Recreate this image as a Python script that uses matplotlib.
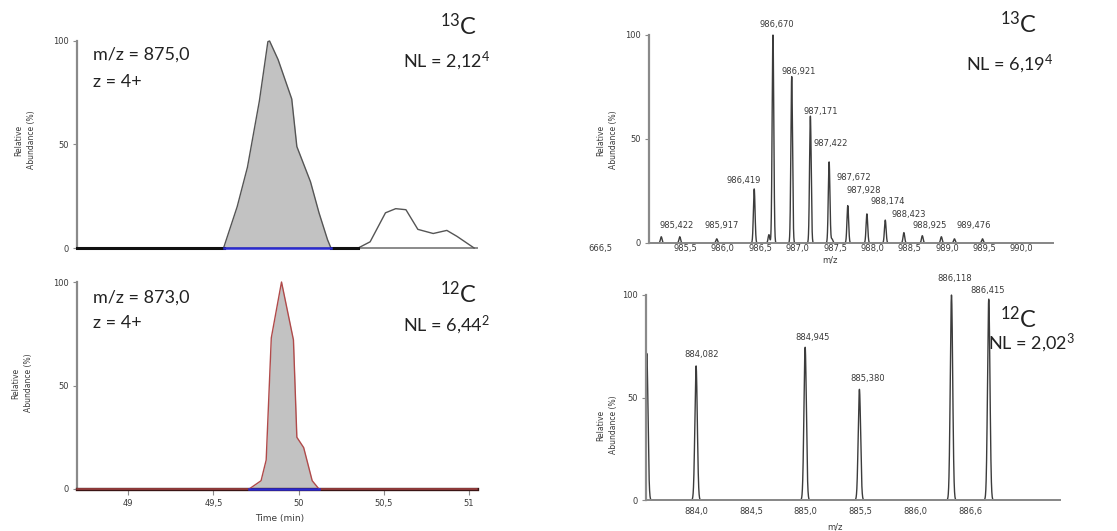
import numpy as np
import matplotlib
matplotlib.use("Agg")
import matplotlib.pyplot as plt

plt.rcParams['font.family'] = ['DejaVu Sans']
plt.rcParams['mathtext.fontset'] = 'custom'
plt.rcParams['mathtext.rm'] = 'Lato'
plt.rcParams['mathtext.it'] = 'Lato'

# ---------------- data ----------------
# Top-left chromatogram (13C), m/z 875,0
tl_time = [48.70, 49.56, 49.64, 49.70, 49.77, 49.82, 49.83, 49.88, 49.96, 49.99,
           50.07, 50.12, 50.17, 50.19, 50.35, 50.42, 50.51, 50.57, 50.63, 50.70,
           50.79, 50.87, 50.93, 51.03]
tl_int = [0, 0, 20, 39, 71, 99.7, 100, 91, 72, 49,
          32, 17, 4, 0, 0, 3, 17, 19, 18.5, 9,
          7, 8.5, 5.6, 0]
tl_area = (49.56, 50.19)

# Bottom-left chromatogram (12C), m/z 873,0
bl_time = [48.70, 49.71, 49.78, 49.81, 49.84, 49.90, 49.97, 49.99, 50.03, 50.08, 50.12, 51.047]
bl_int = [0, 0, 4, 14, 73, 100, 72, 25, 20, 4, 0, 0]
bl_area = (49.71, 50.12)

time_ticks = [49, 49.5, 50, 50.5, 51]
time_ticklabels = ['49', '49,5', '50', '50,5', '51']

# Top-right spectrum (13C)
tr_mz = [985.174, 985.422, 985.917, 986.419, 986.616, 986.670, 986.921, 987.171,
         987.422, 987.46, 987.672, 987.928, 988.174, 988.423, 988.67, 988.925,
         989.10, 989.476]
tr_int = [3, 3, 2, 26, 4, 100, 80, 61, 39, 2, 18, 14, 11, 5, 3.5, 3, 2, 2]
tr_labels = ['', '985,422', '985,917', '986,419', '', '986,670', '986,921', '987,171',
             '987,422', '', '987,672', '987,928', '988,174', '988,423', '', '988,925',
             '', '989,476']
tr_ticks = [985.5, 986.0, 986.5, 987.0, 987.5, 988.0, 988.5, 989.0, 989.5, 990.0]
tr_ticklabels = ['985,5', '986,0', '986,5', '987,0', '987,5', '988,0', '988,5',
                 '989,0', '989,5', '990,0']

# Bottom-right spectrum (12C)
br_mz = [883.55, 884.00, 884.995, 885.49, 886.33, 886.67]
br_int = [71.5, 65.4, 74.5, 54, 100, 98]
br_labels = ['', '884,082', '884,945', '885,380', '886,118', '886,415']
br_ticks = [884.0, 884.5, 885.0, 885.5, 886.0, 886.5]
br_ticklabels = ['884,0', '884,5', '885,0', '885,5', '886,0', '886,6']

# ---------------- layout ----------------
W, H = 1117, 531
fig = plt.figure(figsize=(W / 100, H / 100), dpi=100)


def ax_px(l, r, t, b):
    return fig.add_axes([l / W, 1 - b / H, (r - l) / W, (b - t) / H])


def ftext(x, y, s, **kw):
    fig.text(x / W, 1 - y / H, s, **kw)


AX_GRAY = '#8a8a8a'
TXT = '#3a3a3a'
BIG = dict(family='Lato', color='#222222')
FS_BIG = 13
FS_ISO = 17


def style_axes(ax):
    for s in ('top', 'right'):
        ax.spines[s].set_visible(False)
    ax.spines['left'].set_color(AX_GRAY)
    ax.spines['left'].set_linewidth(1.6)
    ax.spines['bottom'].set_color(AX_GRAY)
    ax.spines['bottom'].set_linewidth(1.4)
    ax.set_ylim(0, 100)
    ax.set_yticks([0, 50, 100])
    ax.set_yticklabels(['0', '50', '100'])
    ax.tick_params(axis='y', length=3, width=0.8, color=AX_GRAY, pad=3,
                   labelsize=6, labelcolor=TXT)
    ax.patch.set_alpha(0)


def ylabel(x, y):
    ftext(x, y, 'Relative\nAbundance (%)', rotation=90, ha='center', va='center',
          fontsize=5.5, color=TXT, linespacing=1.6)


# ----- top-left -----
ax = ax_px(77, 477, 41, 248)
style_axes(ax)
t = np.array(tl_time)
v = np.array(tl_int)
ax.set_xlim(48.70, 51.047)
m = (t >= tl_area[0]) & (t <= tl_area[1])
ax.fill_between(t[m], v[m], 0, color='#c2c2c2', lw=0)
ax.plot(t, v, color='#555555', lw=1.0, clip_on=False, zorder=3)
ax.plot([t[0], tl_area[0]], [0, 0], color='#111111', lw=2.2, clip_on=False, zorder=4)
ax.plot([tl_area[1], t[14]], [0, 0], color='#111111', lw=2.2, clip_on=False, zorder=4)
ax.plot(list(tl_area), [0, 0], color='#2a2ad0', lw=1.8, clip_on=False, zorder=4)
ax.set_xticks([])
ylabel(25, 140)
ftext(93, 60, 'm/z = 875,0', fontsize=FS_BIG, **BIG)
ftext(93, 87, 'z = 4+', fontsize=FS_BIG, **BIG)
ftext(477, 35, r'$\mathregular{^{13}}$C', fontsize=FS_ISO, ha='right', **BIG)
ftext(490, 67, r'NL = 2,12$\mathregular{^{4}}$', fontsize=FS_BIG, ha='right', **BIG)

# ----- bottom-left -----
ax = ax_px(77, 477, 282, 489)
style_axes(ax)
t = np.array(bl_time)
v = np.array(bl_int)
ax.set_xlim(48.70, 51.047)
m = (t >= bl_area[0]) & (t <= bl_area[1])
ax.fill_between(t[m], v[m], 0, color='#c2c2c2', lw=0)
ax.plot([t[0], t[-1]], [0, 0], color='#3a1414', lw=2.4, clip_on=False, zorder=3)
ax.plot(t, v, color='#b04a4a', lw=1.0, clip_on=False, zorder=3)
ax.plot(list(bl_area), [0, 0], color='#2a2ad0', lw=1.8, clip_on=False, zorder=4)
ax.set_xticks(time_ticks)
ax.set_xticklabels(time_ticklabels)
ax.tick_params(axis='x', length=4, width=0.8, color=AX_GRAY, pad=3,
               labelsize=6, labelcolor=TXT)
ylabel(22, 383)
ftext(280, 518, 'Time (min)', fontsize=6.5, ha='center', va='center', color=TXT)
ftext(93, 303, 'm/z = 873,0', fontsize=FS_BIG, **BIG)
ftext(93, 328, 'z = 4+', fontsize=FS_BIG, **BIG)
ftext(477, 303, r'$\mathregular{^{12}}$C', fontsize=FS_ISO, ha='right', **BIG)
ftext(490, 331, r'NL = 6,44$\mathregular{^{2}}$', fontsize=FS_BIG, ha='right', **BIG)


def spectrum(ax, mz, inten, lo, hi, sigma):
    x = np.linspace(lo, hi, 6000)
    y = np.zeros_like(x)
    for c, h in zip(mz, inten):
        y += h * np.exp(-0.5 * ((x - c) / sigma) ** 2)
    ax.plot(x, y, color='#3c3c3c', lw=1.0, clip_on=False)


# ----- top-right -----
ax = ax_px(649, 1053, 35, 243)
style_axes(ax)
ax.set_xlim(985.01, 990.42)
spectrum(ax, tr_mz, tr_int, 985.01, 990.42, 0.011)
ax.set_xticks(tr_ticks)
ax.set_xticklabels(tr_ticklabels)
ax.tick_params(axis='x', length=0, pad=1, labelsize=6, labelcolor=TXT)
tr_offsets = {  # label centre offsets in pixels (dx, dy above peak top)
    '985,422': (-3, 11), '985,917': (5, 13), '986,419': (-11, 8),
    '986,670': (4, 10), '986,921': (7, 5), '987,171': (10, 5),
    '987,422': (2, 18), '987,672': (6, 28), '987,928': (-3, 23),
    '988,174': (2, 19), '988,423': (5, 18), '988,925': (-12, 11),
    '989,476': (-9, 13)}
for c, h, lab in zip(tr_mz, tr_int, tr_labels):
    if lab:
        dx, dy = tr_offsets[lab]
        ax.annotate(lab, (c, h), xytext=(dx, dy), textcoords='offset pixels',
                    ha='center', va='center', fontsize=6, color=TXT,
                    annotation_clip=False)
ylabel(607, 140)
ftext(600, 248, '666,5', fontsize=6, ha='center', va='center', color=TXT)
ftext(830, 260, 'm/z', fontsize=6, ha='center', va='center', color=TXT)
ftext(1037, 33, r'$\mathregular{^{13}}$C', fontsize=FS_ISO, ha='right', **BIG)
ftext(1053, 70, r'NL = 6,19$\mathregular{^{4}}$', fontsize=FS_BIG, ha='right', **BIG)

# ----- bottom-right -----
ax = ax_px(646, 1060, 295, 500)
style_axes(ax)
ax.set_xlim(883.543, 887.32)
spectrum(ax, br_mz, br_int, 883.543, 887.32, 0.011)
ax.set_xticks(br_ticks)
ax.set_xticklabels(br_ticklabels)
ax.tick_params(axis='x', length=0, pad=5, labelsize=6, labelcolor=TXT)
br_offsets = {'884,082': (6, 11), '884,945': (7, 10), '885,380': (8, 11),
              '886,118': (3, 16), '886,415': (-1, 9)}
for c, h, lab in zip(br_mz, br_int, br_labels):
    if lab:
        dx, dy = br_offsets[lab]
        ax.annotate(lab, (c, h), xytext=(dx, dy), textcoords='offset pixels',
                    ha='center', va='center', fontsize=6, color=TXT,
                    annotation_clip=False)
ylabel(607, 425)
ftext(835, 527, 'm/z', fontsize=6, ha='center', va='center', color=TXT)
ftext(1037, 328, r'$\mathregular{^{12}}$C', fontsize=FS_ISO, ha='right', **BIG)
ftext(1075, 349, r'NL = 2,02$\mathregular{^{3}}$', fontsize=FS_BIG, ha='right', **BIG)

fig.savefig('out.png', dpi=100)
